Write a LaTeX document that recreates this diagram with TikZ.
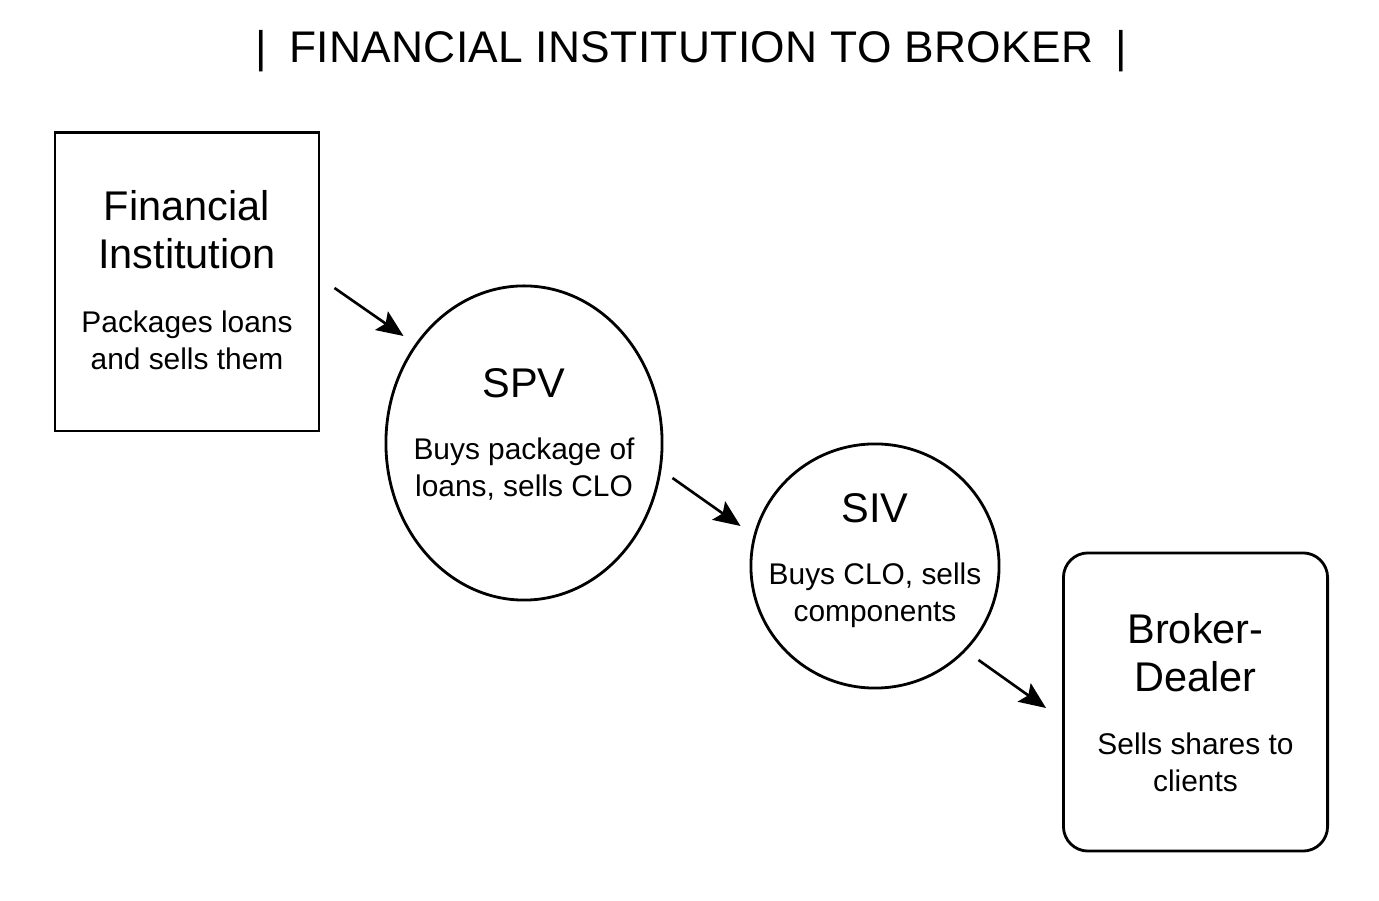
\documentclass[tikz,border=0pt]{standalone}
\usepackage{fontspec}
\setmainfont{Liberation Sans}
\newfontfamily\headfont[LetterSpace=0.8]{Liberation Sans}
\usetikzlibrary{shapes.geometric,arrows.meta}
\tikzset{   block/.style = {draw, line width=0.8pt, rectangle, minimum width=2.64cm, minimum height=2.98cm},
            rblock/.style = {block, rounded corners=7pt},
            oval/.style = {draw, line width=0.8pt, ellipse, inner sep=0pt},
            bigtext/.style = {font=\fontsize{11.8}{13.7}\selectfont, align=center, inner sep=0pt},
            smalltext/.style = {font=\fontsize{8.5}{10.5}\selectfont, align=center, inner sep=0pt},
            flow/.style = {line width=0.75pt, -{Stealth[length=7.6pt, width=6.4pt, inset=1.4pt]}}}

\begin{document}
\begin{tikzpicture}[x=0.01cm, y=-0.01cm]
    \useasboundingbox (0,0) rectangle (1379,901);
    \node[anchor=base, inner sep=0pt, font=\headfont\fontsize{12.6}{14}\selectfont](head)at(691,63){|\hspace{0.5em}FINANCIAL INSTITUTION TO BROKER\hspace{0.5em}|};

    \node[block](fi)at(187,282){};
    \node[bigtext](finame)at(187,230){Financial\\Institution};
    \node[smalltext](fidesc)at(187,340){Packages loans\\and sells them};

    \node[oval, minimum width=2.76cm, minimum height=3.14cm](spv)at(524,443){};
    \node[bigtext, anchor=base](spvname)at(524,398){SPV};
    \node[smalltext](spvdesc)at(524,469){Buys package of\\loans, sells CLO};

    \node[oval, minimum width=2.48cm, minimum height=2.44cm](siv)at(875,566){};
    \node[bigtext, anchor=base](sivname)at(875,523){SIV};
    \node[smalltext](sivdesc)at(875,595){Buys CLO, sells\\components};

    \node[rblock](bd)at(1195.5,702){};
    \node[bigtext](bdname)at(1195.5,653){Broker-\\Dealer};
    \node[smalltext](bddesc)at(1195.5,762){Sells shares to\\clients};

    \draw[flow]([shift={(14,6)}]fi.east)--([shift={(19,-107)}]spv.west);
    \draw[flow]([shift={(9,35)}]spv.east)--([shift={(-9,-40)}]siv.west);
    \draw[flow]([shift={(-22,94)}]siv.east)--([shift={(-16,6)}]bd.west);
\end{tikzpicture}
\end{document}
